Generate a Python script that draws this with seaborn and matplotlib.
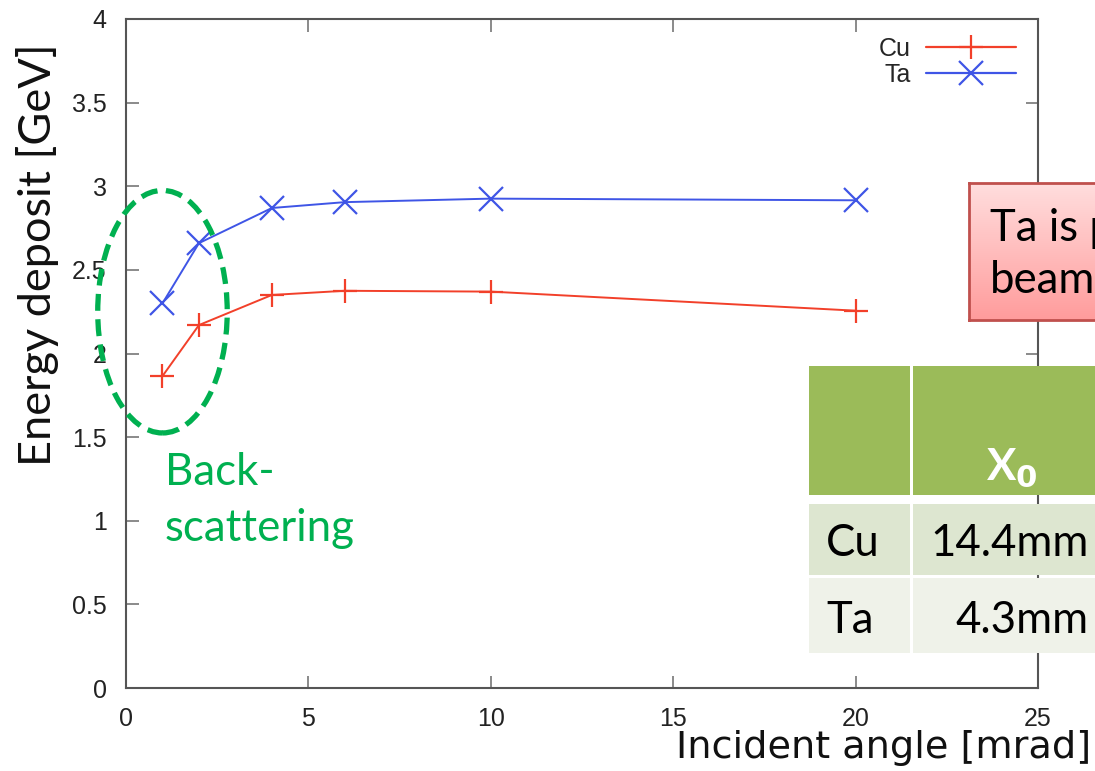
import numpy as np
import pandas as pd
import matplotlib
matplotlib.use("Agg")
import matplotlib.pyplot as plt
import seaborn as sns
from matplotlib.patches import Ellipse, Rectangle
from matplotlib.colors import LinearSegmentedColormap
from matplotlib.lines import Line2D

# ---- data ----
angles = [1, 2, 4, 6, 10, 20]
cu_edep = [1.865, 2.17, 2.35, 2.375, 2.37, 2.256]
ta_edep = [2.30, 2.66, 2.87, 2.905, 2.926, 2.916]
materials = ["Cu", "Ta"]
x_ticks = [0, 5, 10, 15, 20, 25]
y_ticks = [0, 0.5, 1, 1.5, 2, 2.5, 3, 3.5, 4]
y_tick_labels = ["0", "0.5", "1", "1.5", "2", "2.5", "3", "3.5", "4"]
table_rows = ["Cu", "Ta"]
table_x0 = ["14.4mm", "4.3mm"]

df = pd.DataFrame({
    "angle": angles * 2,
    "edep": cu_edep + ta_edep,
    "material": ["Cu"] * len(angles) + ["Ta"] * len(angles),
})

sns.set_style("ticks")
plt.rcParams["font.family"] = ["Liberation Sans", "DejaVu Sans"]

W, H = 1095, 771
fig = plt.figure(figsize=(W / 100, H / 100), dpi=100)
def fx(p): return p / W
def fy(p): return 1 - p / H

ax = fig.add_axes([fx(126), fy(688), fx(1038) - fx(126), fy(19) - fy(688)])

colors = {"Cu": "#f2402a", "Ta": "#3f55e6"}
sns.lineplot(data=df, x="angle", y="edep", hue="material", style="material",
             markers={"Cu": "+", "Ta": "x"}, dashes=False,
             palette=colors,
             markersize=17, markeredgewidth=1.6, linewidth=1.4, ax=ax,
             legend=False)
for line in ax.lines:
    line.set_markeredgecolor(line.get_color())
    line.set_markerfacecolor(line.get_color())

ax.set_xlim(0, 25)
ax.set_ylim(0, 4)
ax.set_xticks(x_ticks)
ax.set_yticks(y_ticks)
ax.set_yticklabels(y_tick_labels)
ax.set_xlabel("")
ax.set_ylabel("")
ax.tick_params(direction="in", length=9, width=1.2, color="#777777",
               labelsize=18, labelcolor="#222222", top=True, right=True,
               pad=14)
for s in ax.spines.values():
    s.set_color("#555555")
    s.set_linewidth(1.5)

handles = [Line2D([], [], color=colors["Cu"], marker="+", markersize=17,
                  markeredgewidth=1.6, linewidth=1.6),
           Line2D([], [], color=colors["Ta"], marker="x", markersize=17,
                  markeredgewidth=1.6, linewidth=1.6)]
ax.legend(handles, materials, loc="upper right", frameon=False,
          markerfirst=False, fontsize=18, handlelength=3.6, handletextpad=0.6,
          labelspacing=0.1, borderaxespad=0.3, bbox_to_anchor=(0.995, 1.0))

# dashed ellipse (back-scattering region)
ell = Ellipse((1.0, 2.25), 3.55, 1.45, fill=False, edgecolor="#00b050",
              linewidth=3.8, linestyle=(0, (3.2, 1.6)), clip_on=False, zorder=5)
ax.add_patch(ell)

ov = ["Lato", "DejaVu Sans"]
fs = 31.5
fig.text(fx(165), fy(485), "Back-", color="#00b050", fontsize=fs,
         family=ov, va="baseline", ha="left")
fig.text(fx(165), fy(541), "scattering", color="#00b050", fontsize=fs,
         family=ov, va="baseline", ha="left")

# axis titles
fig.text(fx(1091), fy(758), "Incident angle [mrad]", fontsize=27.5,
         family=["DejaVu Sans"], ha="right", va="baseline", color="#111111")
fig.text(fx(38), fy(255), "Energy deposit [GeV]", fontsize=32.5,
         family=ov, ha="center", va="center", rotation=90, color="#111111")

# red note box with gradient
bax = fig.add_axes([fx(969), fy(320), fx(1095) - fx(969) + 0.02, fy(183) - fy(320)])
grad = np.linspace(0, 1, 100).reshape(-1, 1)
cmap = LinearSegmentedColormap.from_list("pinkgrad", ["#ffdede", "#ff9c9c"])
bax.imshow(grad, aspect="auto", cmap=cmap, extent=[0, 1, 1, 0])
bax.set_xticks([]); bax.set_yticks([])
for s in bax.spines.values():
    s.set_color("#c0504d"); s.set_linewidth(2)
fig.text(fx(990), fy(241), "Ta is p", fontsize=fs, family=ov,
         va="baseline", ha="left", color="black")
fig.text(fx(990), fy(293), "beam", fontsize=fs, family=ov,
         va="baseline", ha="left", color="black")

# table overlay
def rect(x0, y0, x1, y1, color):
    fig.add_artist(Rectangle((fx(x0), fy(y1)), fx(x1) - fx(x0), fy(y0) - fy(y1),
                             transform=fig.transFigure, facecolor=color,
                             edgecolor="none", zorder=10))
rect(809, 366, 910, 495, "#9bbb59")
rect(913, 366, 1100, 495, "#9bbb59")
rect(809, 504, 910, 575, "#dde6d0")
rect(913, 504, 1100, 575, "#dde6d0")
rect(809, 578, 910, 653, "#eff2e9")
rect(913, 578, 1100, 653, "#eff2e9")
fig.text(fx(1012), fy(480), r"X$_\mathbf{0}$", fontsize=fs, family=ov,
         weight="bold", color="white", ha="center", va="baseline", zorder=11)
row_base = [556, 633]
for name, val, yb in zip(table_rows, table_x0, row_base):
    fig.text(fx(826), fy(yb), name, fontsize=fs, family=ov, va="baseline",
             ha="left", color="black", zorder=11)
    fig.text(fx(1089), fy(yb), val, fontsize=fs, family=ov, va="baseline",
             ha="right", color="black", zorder=11)

fig.savefig("out.png", dpi=100)
